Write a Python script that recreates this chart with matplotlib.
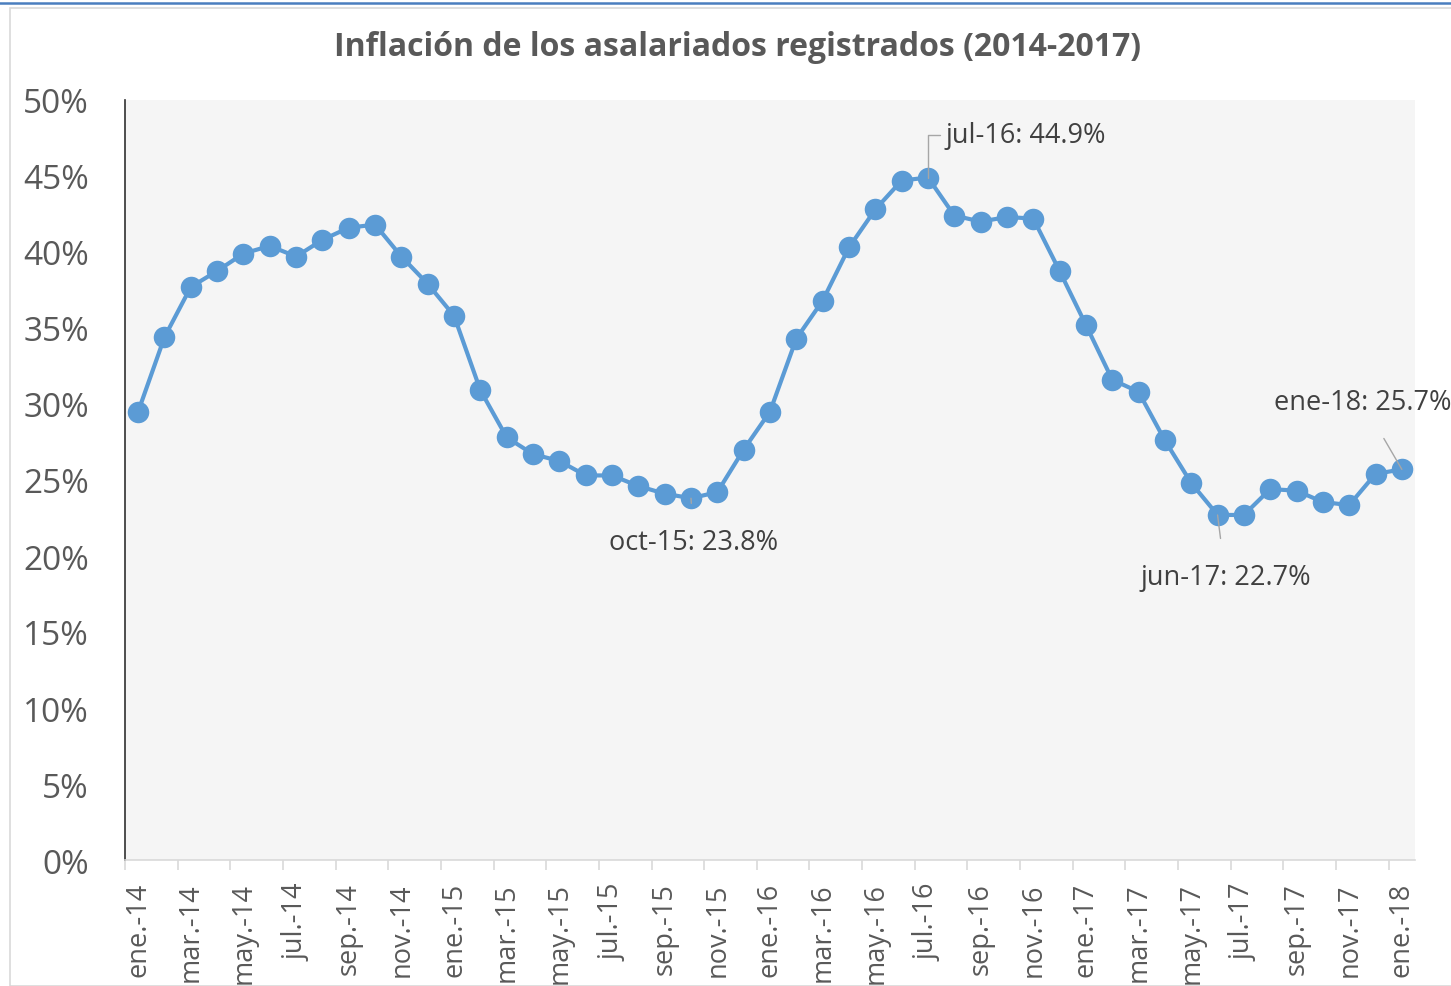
import matplotlib.pyplot as plt
from matplotlib.patches import Rectangle
from matplotlib.lines import Line2D
import numpy as np

plt.rcParams['font.family'] = ['Open Sans', 'DejaVu Sans']

# Monthly labels (ene-14 .. ene-18)
meses = ["ene", "feb", "mar", "abr", "may", "jun", "jul", "ago", "sep", "oct", "nov", "dic"]
years = ["14", "15", "16", "17"]
months = [f"{m}-{y}" for y in years for m in meses] + ["ene-18"]

# Year-on-year inflation, %
inflation = [29.5, 34.4, 37.7, 38.75, 39.9, 40.4, 39.7, 40.8, 41.6, 41.8, 39.7, 37.9,
             35.8, 30.9, 27.8, 26.7, 26.25, 25.3, 25.3, 24.6, 24.1, 23.8, 24.2, 27.0,
             29.5, 34.3, 36.8, 40.3, 42.8, 44.7, 44.9, 42.4, 42.0, 42.3, 42.2, 38.75,
             35.2, 31.6, 30.8, 27.6, 24.8, 22.7, 22.7, 24.4, 24.3, 23.55, 23.35, 25.4,
             25.7]

# labelled points: (month, text x offset in months, text y in %, ha)
callouts = [("oct-15", 0.1, 20.9, "center"),
            ("jul-16", 0.66, 47.7, "left"),
            ("jun-17", 0.3, 18.6, "center"),
            ("ene-18", -4.85, 30.1, "left")]

tick_labels = [m.split("-")[0] + ".-" + m.split("-")[1] for m in months]

W, H = 1451, 987
fig = plt.figure(figsize=(W / 100, H / 100), dpi=100)
fig.patch.set_facecolor("white")

# chart frame and top blue line
fig.patches.append(Rectangle((10 / W, 0), 1.2, 1 - 9 / H, transform=fig.transFigure,
                             fill=False, edgecolor="#d9d9d9", linewidth=1.2))
fig.lines.append(Line2D([0, 1], [1 - 4 / H, 1 - 4 / H], transform=fig.transFigure,
                        color="#4a7ebf", linewidth=1.8))

ax = fig.add_axes([125 / W, 1 - 861 / H, (1415 - 125) / W, (861 - 101) / H])
ax.set_facecolor("#f5f5f5")

x = np.arange(len(months))
ax.plot(x, inflation, color="#5b9bd5", linewidth=3.0, marker="o", markersize=15.5,
        markeredgewidth=0, zorder=3)

ax.set_xlim(-0.5, len(months) - 0.5)
ax.set_ylim(0, 50)

ax.set_yticks(np.arange(0, 51, 5))
ax.set_yticklabels([f"{v}%" for v in range(0, 51, 5)], fontsize=24, color="#595959")
ax.tick_params(axis="y", length=0, pad=26)
ax.set_yticks([0, 50], minor=True)
ax.tick_params(axis="y", which="minor", direction="in", length=7, color="#404040", width=1.2)

ax.set_xticks(x[::2])
ax.set_xticklabels(tick_labels[::2], rotation=90, fontsize=19.5, color="#595959")
ax.tick_params(axis="x", length=0, pad=16)
ax.set_xticks(np.arange(-0.5, len(months), 2), minor=True)
ax.tick_params(axis="x", which="minor", length=7, color="#d9d9d9", width=1.2)

for s in ["top", "right"]:
    ax.spines[s].set_visible(False)
ax.spines["bottom"].set_color("#d9d9d9")
ax.spines["bottom"].set_linewidth(1.2)
ax.spines["left"].set_color("#303030")
ax.spines["left"].set_linewidth(1.2)

for m, dx, ty, ha in callouts:
    i = months.index(m)
    v = inflation[i]
    cs = "angle,angleA=180,angleB=90,rad=0" if m == "jul-16" else "arc3"
    ax.annotate(f"{m}: {v:.1f}%", xy=(i, v), xytext=(i + dx, ty), ha=ha, va="center",
                fontsize=19.5, color="#404040", annotation_clip=False,
                arrowprops=dict(arrowstyle="-", color="#a6a6a6", lw=1.0,
                                shrinkA=16 if m != "jul-16" else 2, shrinkB=0,
                                connectionstyle=cs), zorder=4)

fig.text(0.5 * (331 + 1145) / W, 1 - 47 / H,
         "Inflación de los asalariados registrados (2014-2017)",
         ha="center", va="center", fontsize=23, fontweight="bold", color="#595959")

fig.savefig("out.png", dpi=100, facecolor="white")
